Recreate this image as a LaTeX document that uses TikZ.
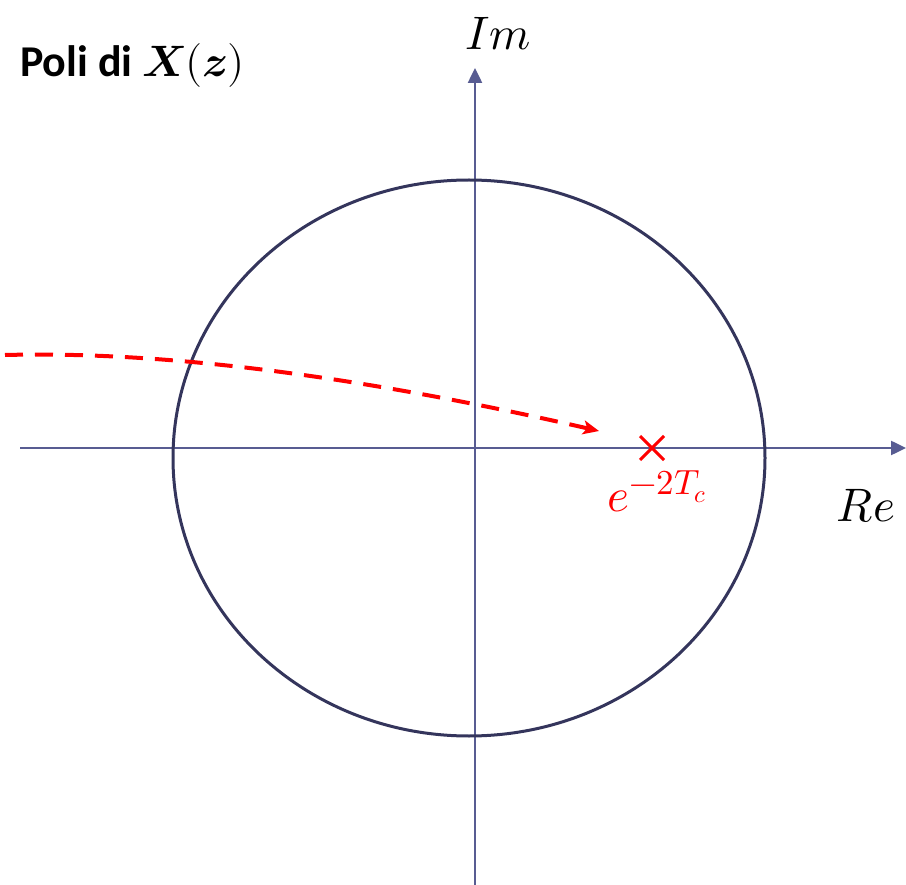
\documentclass[tikz,border=0pt]{standalone}
\usepackage{fontspec}
\usepackage{unicode-math}
\setmainfont{Carlito}
\usetikzlibrary{arrows.meta,shapes.geometric,calc}
\definecolor{axiscol}{HTML}{585C92}
\definecolor{circcol}{HTML}{34355C}
\definecolor{redcol}{HTML}{FF0000}
\tikzset{
  axis/.style={draw=axiscol, line width=2.5pt, -{Triangle[length=15pt,width=14pt]}},
  unitcirc/.style={draw=circcol, line width=3pt},
  traj/.style={draw=redcol, line width=4pt, dash pattern=on 18pt off 12pt, -{Stealth[length=16pt,width=14pt,inset=4pt]}},
  polemark/.style={draw=redcol, line width=3pt},
  lbl/.style={inner sep=0pt, font=\fontsize{47}{54}\selectfont},
  ttl/.style={inner sep=0pt, font=\fontsize{44}{52}\selectfont}
}
\begin{document}
\begin{tikzpicture}[x=1pt,y=-1pt]
\useasboundingbox (0,0) rectangle (906,885);
% axes
\coordinate (xl) at (20,448);
\coordinate (xr) at (906,448);
\coordinate (yb) at (475,885);
\coordinate (yt) at (475,68);
\draw[axis] (xl) -- (xr);
\draw[axis] (yb) -- (yt);
% unit circle
\node[unitcirc, ellipse, minimum width=592pt, minimum height=556pt, inner sep=0pt] (circ) at (469,458) {};
% trajectory
\coordinate (ts) at (5,355);
\coordinate (te) at (599,431);
\draw[traj] (ts) .. controls (200,350) and (420,390) .. (te);
% pole
\coordinate (pole) at (652,448);
\draw[polemark] ($(pole)+(-12,-12)$) -- ($(pole)+(12,12)$);
\draw[polemark] ($(pole)+(-12,12)$) -- ($(pole)+(12,-12)$);
% labels
\node[lbl, text=redcol] (plbl) at (657,491) {$e$\raisebox{17pt}{\fontsize{35}{40}\selectfont$-2T_{c}$}};
\node[lbl] (im) at (498,34) {$Im$};
\node[lbl] (re) at (866,506) {$Re$};
\node[ttl, anchor=west] (title) at (20,66) {\textbf{Poli di} $\symbfit{X}(\symbfit{z})$};
\end{tikzpicture}
\end{document}
